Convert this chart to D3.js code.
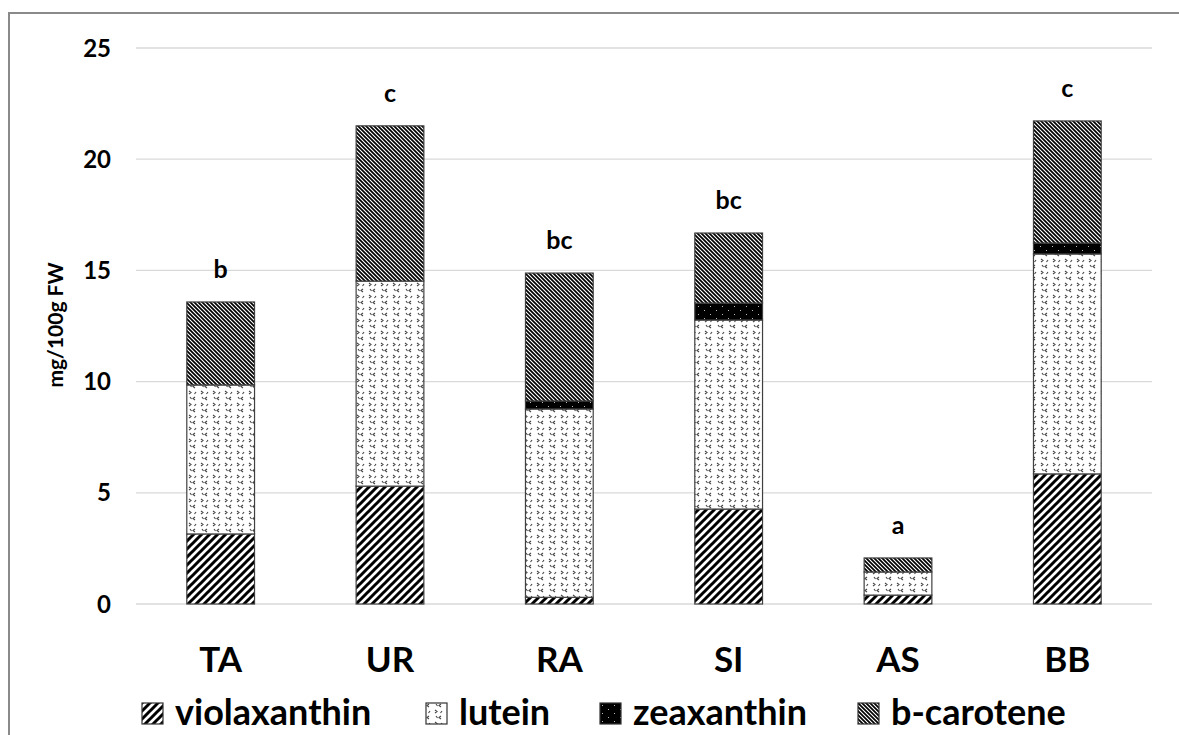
<!DOCTYPE html>
<html><head><meta charset="utf-8">
<script src="https://cdn.jsdelivr.net/npm/d3@7"></script>
<style>html,body{margin:0;padding:0;background:#fff;}svg{display:block;}</style>
</head><body>
<svg id="c" width="1179" height="735"></svg>
<script>
const categories = ["TA","UR","RA","SI","AS","BB"];
const violaxanthin = [3.15, 5.3, 0.3, 4.27, 0.4, 5.85];
const lutein = [6.7, 9.22, 8.47, 8.5, 1.04, 9.89];
const zeaxanthin = [0, 0, 0.36, 0.76, 0, 0.49];
const bcarotene = [3.73, 6.98, 5.75, 3.15, 0.63, 5.49];
const letters = ["b","c","bc","bc","a","c"];
const yTicks = [0,5,10,15,20,25];
const seriesNames = ["violaxanthin","lutein","zeaxanthin","b-carotene"];
const seriesKeys = ["v","l","z","b"];

const font = "Lato, 'Open Sans', sans-serif";
const svg = d3.select("#c");
const W = 1179, H = 735;

const defs = svg.append("defs");
let p = defs.append("pattern").attr("id","pv").attr("patternUnits","userSpaceOnUse")
  .attr("width",8).attr("height",8);
p.append("rect").attr("width",8).attr("height",8).attr("fill","#fff");
p.append("path").attr("d","M-2,2 L2,-2 M0,8 L8,0 M6,10 L10,6").attr("stroke","#000").attr("stroke-width",3);
p = defs.append("pattern").attr("id","pb").attr("patternUnits","userSpaceOnUse")
  .attr("width",4).attr("height",4);
p.append("rect").attr("width",4).attr("height",4).attr("fill","#fff");
p.append("path").attr("d","M-1,-1 L5,5 M-1,3 L1,5 M3,-1 L5,1").attr("stroke","#000").attr("stroke-width",1.7);
p = defs.append("pattern").attr("id","pl").attr("patternUnits","userSpaceOnUse")
  .attr("width",12).attr("height",12);
p.append("rect").attr("width",12).attr("height",12).attr("fill","#fff");
p.append("path").attr("d","M3,1 L1,2.5 L3,4 M9,7 L11,8.5 L9,10 M10,1 L11.5,3 M4,8 L2.5,10")
  .attr("stroke","#444").attr("stroke-width",1.1).attr("fill","none");
p = defs.append("pattern").attr("id","pz").attr("patternUnits","userSpaceOnUse")
  .attr("width",12).attr("height",8);
p.append("rect").attr("width",12).attr("height",8).attr("fill","#000");
p.append("rect").attr("x",2).attr("y",2).attr("width",1).attr("height",1).attr("fill","#bbb");
p.append("rect").attr("x",8).attr("y",6).attr("width",1).attr("height",1).attr("fill","#bbb");

svg.append("path").attr("d",`M9,${H} L9,13 L${W},13`).attr("fill","none").attr("stroke","#8a8a8a").attr("stroke-width",2);

const x0 = 136, x1 = 1152;
const x = d3.scaleBand().domain(categories).range([x0,x1]).paddingInner(0.6).paddingOuter(0.3);
const y = d3.scaleLinear().domain([0,25]).range([604,48]);

svg.append("g").selectAll("line").data(yTicks).join("line")
  .attr("x1",x0).attr("x2",x1).attr("y1",d=>y(d)).attr("y2",d=>y(d))
  .attr("stroke","#d9d9d9").attr("stroke-width",1.3);

svg.append("g").selectAll("text").data(yTicks).join("text")
  .attr("x",111).attr("y",d=>y(d)).attr("dy","0.36em").attr("text-anchor","end")
  .attr("font-family",font).attr("font-weight","bold").attr("font-size",24).attr("fill","#000")
  .text(d=>d);

svg.append("text").attr("transform","translate(63,325) rotate(-90)").attr("text-anchor","middle")
  .attr("font-family",font).attr("font-weight","bold").attr("font-size",21).text("mg/100g FW");

const rows = categories.map((c,i)=>({cat:c, v:violaxanthin[i], l:lutein[i], z:zeaxanthin[i], b:bcarotene[i]}));
const stack = d3.stack().keys(seriesKeys)(rows);
const fills = {v:"url(#pv)", l:"url(#pl)", z:"url(#pz)", b:"url(#pb)"};

svg.append("g").selectAll("g").data(stack).join("g")
  .attr("fill",d=>fills[d.key])
  .selectAll("rect").data(d=>d.filter(s=>s[1]-s[0]>0)).join("rect")
  .attr("x",d=>x(d.data.cat)).attr("width",x.bandwidth())
  .attr("y",d=>y(d[1])).attr("height",d=>y(d[0])-y(d[1]))
  .attr("stroke","#404040").attr("stroke-width",1.2);

svg.append("g").selectAll("text").data(rows).join("text")
  .attr("x",d=>x(d.cat)+x.bandwidth()/2)
  .attr("y",d=>y(d.v+d.l+d.z+d.b)-24)
  .attr("text-anchor","middle").attr("font-family",font).attr("font-weight","bold").attr("font-size",25)
  .text((d,i)=>letters[i]);

svg.append("g").selectAll("text").data(categories).join("text")
  .attr("x",d=>x(d)+x.bandwidth()/2).attr("y",672).attr("text-anchor","middle")
  .attr("font-family",font).attr("font-weight","bold").attr("font-size",35).text(d=>d);

const legX = [142, 426, 600, 858];
const lg = svg.append("g").selectAll("g").data(seriesKeys).join("g")
  .attr("transform",(d,i)=>`translate(${legX[i]},703)`);
lg.append("rect").attr("width",21).attr("height",21).attr("fill",d=>fills[d]).attr("stroke","#333").attr("stroke-width",1.2);
lg.append("text").attr("x",33).attr("y",22).attr("font-family",font).attr("font-weight","bold").attr("font-size",36)
  .text((d,i)=>seriesNames[i]);
</script>
</body></html>
